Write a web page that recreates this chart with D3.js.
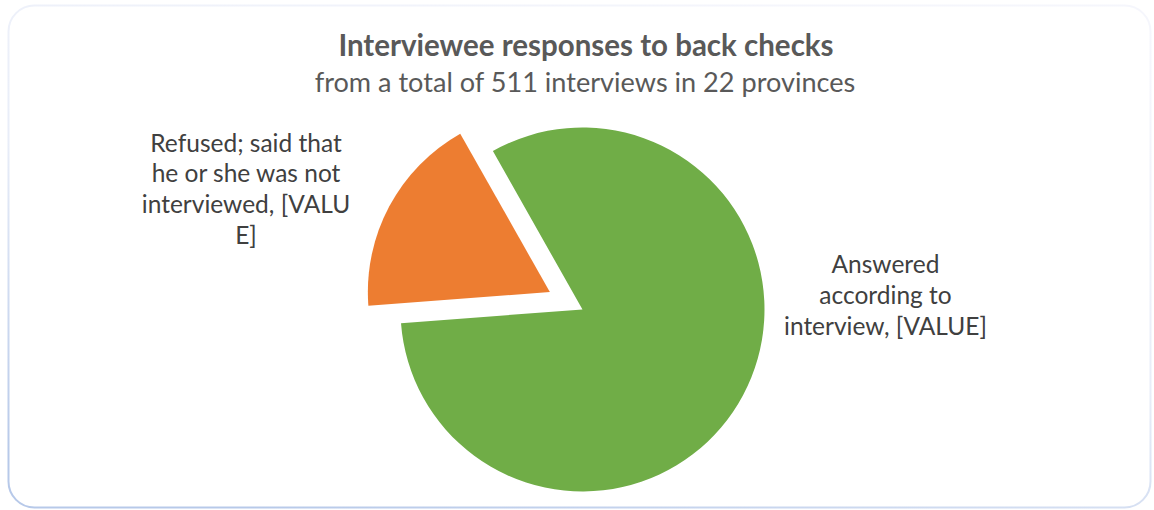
<!DOCTYPE html>
<html><head><meta charset="utf-8">
<script src="https://cdn.jsdelivr.net/npm/d3@7"></script>
<style>html,body{margin:0;padding:0;background:#fff;}svg{display:block;}</style>
</head><body>
<script>
const categories = ["Answered according to interview", "Refused; said that he or she was not interviewed"];
const values = [82, 18];
const colors = ["#70AD47", "#ED7D31"];
const labelLines = [
  ["Answered", "according to", "interview, [VALUE]"],
  ["Refused; said that", "he or she was not", "interviewed, [VALU", "E]"]
];
const titleText = "Interviewee responses to back checks";
const subtitleText = "from a total of 511 interviews in 22 provinces";

const W = 1154, H = 510;
const svg = d3.select("body").append("svg").attr("width", W).attr("height", H);

const defs = svg.append("defs");
const grad = defs.append("linearGradient").attr("id", "bd")
  .attr("x1", "0.7").attr("y1", "0").attr("x2", "0.2").attr("y2", "1");
grad.append("stop").attr("offset", "0").attr("stop-color", "#f5f6fc");
grad.append("stop").attr("offset", "0.5").attr("stop-color", "#e8edf8");
grad.append("stop").attr("offset", "1").attr("stop-color", "#b7c9e9");
svg.append("rect").attr("x", 8.5).attr("y", 5.5).attr("width", 1142).attr("height", 502)
  .attr("rx", 26).attr("fill", "#fff").attr("stroke", "url(#bd)").attr("stroke-width", 2);

const font = "Lato, 'Open Sans', sans-serif";
svg.append("text").attr("x", 586).attr("y", 56).attr("text-anchor", "middle")
  .attr("font-family", font).attr("font-weight", "bold").attr("font-size", 29.5)
  .attr("fill", "#595959").text(titleText);
svg.append("text").attr("x", 585).attr("y", 92).attr("text-anchor", "middle")
  .attr("font-family", font).attr("font-size", 27.1)
  .attr("fill", "#595959").text(subtitleText);

const cx = 582.5, cy = 309.5, R = 182, explode = 37;
const start = -29.5 * Math.PI / 180;
const pie = d3.pie().sort(null).startAngle(start).endAngle(start + 2 * Math.PI);
const arc = d3.arc().innerRadius(0).outerRadius(R);
const arcs = pie(values);
const g = svg.append("g").attr("transform", `translate(${cx},${cy})`);
g.selectAll("path").data(arcs).join("path")
  .attr("d", arc)
  .attr("fill", (d, i) => colors[i])
  .attr("transform", (d, i) => {
    if (i !== 1) return null;
    const m = (d.startAngle + d.endAngle) / 2;
    return `translate(${Math.sin(m) * explode},${-Math.cos(m) * explode})`;
  });

// label anchors (center x, first baseline) relative to pie center
const labelPos = [[303, -36.5], [-336.5, -158]];
const lh = 30.8;
labelLines.forEach((lines, i) => {
  const t = g.append("text").attr("text-anchor", "middle")
    .attr("font-family", font).attr("font-size", 24.5).attr("fill", "#404040");
  lines.forEach((ln, j) => {
    t.append("tspan").attr("x", labelPos[i][0]).attr("y", labelPos[i][1] + j * lh).text(ln);
  });
});
</script>
</body></html>
